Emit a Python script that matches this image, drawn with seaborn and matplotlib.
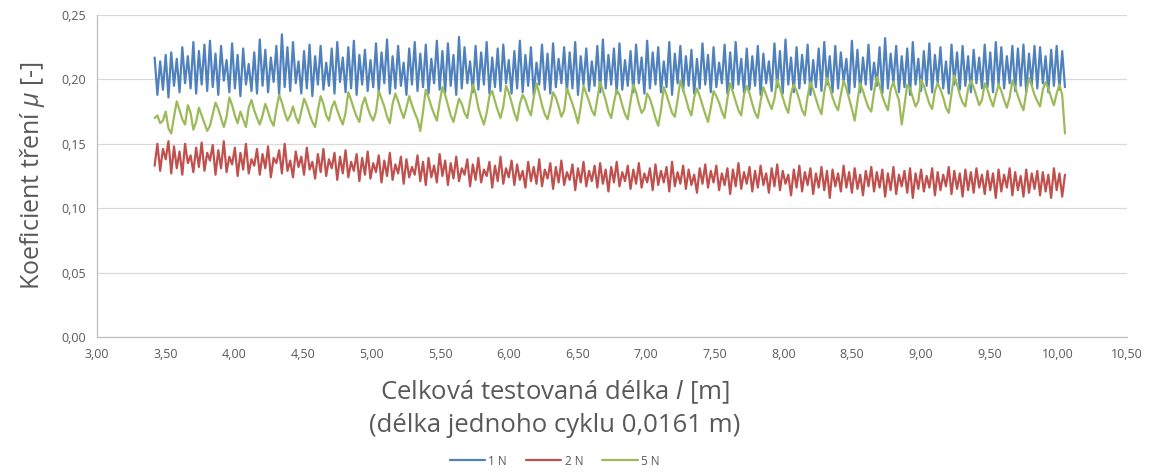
import numpy as np
import pandas as pd
import matplotlib
matplotlib.use("Agg")
import matplotlib.pyplot as plt
from matplotlib.ticker import MultipleLocator, FuncFormatter
import seaborn as sns

# Friction coefficient (in thousandths) sampled at equal steps of sliding distance
start_length = 3.42
end_length = 10.05

mu_1N = [
    217,188,214,192,219,186,221,195,216,190,225,197,218,193,229,189,222,196,227,191,
    230,194,220,188,226,199,215,190,228,193,219,187,224,196,212,191,221,189,231,195,
    223,190,217,198,226,188,235,194,225,191,229,197,214,189,222,193,227,187,218,196,
    226,192,213,195,224,189,229,198,217,190,225,193,230,188,219,196,223,191,215,194,
    228,190,221,197,231,189,218,193,226,195,213,188,224,196,229,191,220,194,227,189,
    216,197,230,192,222,190,228,195,219,188,233,193,225,197,214,190,226,192,221,196,
    229,189,217,194,224,191,227,197,215,189,222,193,230,190,219,195,225,188,213,196,
    227,192,220,189,228,194,216,197,225,190,221,193,229,188,218,196,224,191,214,195,
    226,190,231,193,219,196,224,189,228,192,215,195,222,190,227,197,217,189,230,193,
    221,196,225,190,214,194,229,188,220,197,226,191,218,195,223,189,216,193,228,196,
    219,190,225,194,213,197,227,189,221,193,229,196,216,190,224,192,218,195,226,188,
    220,197,214,191,228,194,222,189,231,196,217,190,225,193,219,197,227,188,215,194,
    224,191,229,196,218,190,226,193,221,198,216,189,230,194,223,190,217,196,227,192,
    213,195,225,189,232,193,220,197,226,190,218,194,224,188,229,196,216,191,222,195,
    228,190,219,197,225,193,214,189,227,196,221,192,226,195,218,190,223,197,217,193,
    227,194,221,190,229,196,225,193,218,197,226,191,224,195,227,190,220,196,226,193,
    225,197,218,190,223,195,226,192,222,194,
]

mu_2N = [
    133,150,129,146,138,152,127,148,131,144,126,150,135,141,128,147,132,151,129,143,
    137,149,126,145,131,152,128,140,134,147,125,143,130,150,127,138,133,146,126,142,
    131,148,124,139,135,145,127,150,129,137,124,144,132,140,126,147,130,136,123,142,
    128,146,125,138,131,143,122,140,127,145,124,136,129,142,121,139,126,144,123,135,
    128,141,120,137,125,143,122,134,127,140,119,138,124,132,126,141,121,136,118,139,
    124,133,120,142,125,137,118,135,123,140,121,131,126,138,117,134,122,139,120,130,
    125,136,116,133,121,140,119,131,124,137,118,134,122,129,116,136,121,132,119,138,
    117,130,123,135,115,132,120,137,118,128,122,134,114,131,120,136,117,129,121,133,
    116,135,119,130,113,132,120,136,117,128,121,133,115,130,119,135,116,127,120,131,
    114,134,118,129,120,132,113,136,117,128,119,133,115,130,118,126,112,131,119,134,
    116,129,120,133,114,127,118,131,111,130,117,135,115,128,119,132,113,129,116,133,
    118,127,112,131,117,134,114,129,119,126,110,130,116,133,113,128,118,131,111,127,
    116,132,114,129,108,130,117,127,113,133,116,128,112,131,115,126,110,129,117,132,
    113,128,116,130,109,127,114,132,111,126,117,129,112,131,108,127,115,130,113,125,
    116,131,110,128,114,126,117,132,111,129,115,127,109,130,114,128,112,131,116,126,
    111,129,114,127,108,130,113,126,116,131,110,128,114,125,109,130,112,127,115,129,
    110,128,113,126,108,131,114,127,109,126,
]

mu_5N = [
    170,172,166,168,175,162,158,171,183,176,169,165,180,174,161,167,178,172,166,160,
    164,173,182,177,170,163,171,186,180,172,166,175,169,163,178,184,176,170,165,172,
    181,175,168,164,177,188,182,174,168,172,179,171,166,175,185,180,173,167,163,176,
    187,181,172,168,178,183,176,170,165,174,190,184,177,171,167,180,186,178,172,168,
    175,191,185,179,171,166,181,189,183,176,170,178,187,180,174,169,160,175,192,186,
    179,173,168,182,194,188,180,172,167,176,185,181,174,170,183,196,189,178,171,165,
    174,187,191,183,176,170,179,195,190,182,174,168,181,188,184,177,172,186,197,189,
    180,173,169,178,190,186,179,171,176,193,187,181,174,166,179,195,189,183,176,172,
    185,198,191,184,175,170,182,192,188,180,173,169,183,196,190,181,174,177,189,185,
    178,170,164,176,194,188,181,174,171,184,199,192,185,177,172,186,193,187,180,173,
    167,178,191,187,182,175,170,185,197,190,183,176,172,188,195,189,181,174,170,183,
    194,188,182,177,185,200,193,186,179,174,189,196,191,184,176,172,187,198,192,185,
    178,173,190,201,194,186,180,176,188,199,193,185,177,168,183,197,191,184,178,175,
    190,202,195,187,181,176,192,198,190,184,165,180,196,193,186,179,183,200,195,188,
    181,177,191,197,192,186,178,174,189,203,196,188,182,179,193,199,194,187,180,184,
    197,192,185,179,188,196,191,184,178,186,199,194,187,181,176,190,201,195,188,183,
    179,192,198,193,186,180,189,196,188,158,
]

series_names = ["1 N", "2 N", "5 N"]
series_colors = ["#4F81BD", "#C0504D", "#9BBB59"]

frames = []
for name, vals in zip(series_names, [mu_1N, mu_2N, mu_5N]):
    frames.append(pd.DataFrame({
        "length": np.linspace(start_length, end_length, len(vals)),
        "mu": np.array(vals) / 1000.0,
        "load": name,
    }))
df = pd.concat(frames, ignore_index=True)

sns.set_style("white")
plt.rcParams["font.family"] = ["Open Sans", "DejaVu Sans"]
plt.rcParams["mathtext.fontset"] = "custom"
plt.rcParams["mathtext.it"] = "Open Sans:italic"
plt.rcParams["mathtext.rm"] = "Open Sans"

text_c = "#595959"
fig = plt.figure(figsize=(11.64, 4.73), dpi=100)
ax = fig.add_axes([0.0833, 0.2875, 0.8847, 0.6808])

sns.lineplot(data=df, x="length", y="mu", hue="load", hue_order=series_names,
             palette=series_colors, linewidth=1.6, ax=ax, estimator=None,
             sort=False, legend=False)

ax.set_xlim(3.0, 10.5)
ax.set_ylim(0.0, 0.25)
ax.xaxis.set_major_locator(MultipleLocator(0.5))
ax.xaxis.set_minor_locator(MultipleLocator(0.1))
ax.yaxis.set_major_locator(MultipleLocator(0.05))
ax.yaxis.set_minor_locator(MultipleLocator(0.01))
comma = FuncFormatter(lambda v, p: f"{v:.2f}".replace(".", ","))
ax.xaxis.set_major_formatter(comma)
ax.yaxis.set_major_formatter(comma)

grid_c = "#D9D9D9"
ax.grid(axis="y", which="major", color=grid_c, linewidth=0.9)
ax.set_axisbelow(True)
for side in ["top", "right"]:
    ax.spines[side].set_visible(False)
for side in ["left", "bottom"]:
    ax.spines[side].set_color("#BFBFBF")
    ax.spines[side].set_linewidth(0.9)

ax.tick_params(axis="both", which="major", direction="out", length=5,
               color="#BFBFBF", labelsize=9, labelcolor=text_c, pad=3)
ax.tick_params(axis="both", which="minor", direction="inout", length=4,
               color="#BFBFBF")

ax.set_xlabel("")
ax.set_ylabel(r"Koeficient tření $\mu$ [-]", fontsize=18, color=text_c,
              labelpad=10)

fig.text(0.4765, 1 - 392 / 473, r"Celková testovaná délka $l$ [m]",
         ha="center", va="center", fontsize=18.5, color=text_c)
fig.text(0.4765, 1 - 425 / 473, "(délka jednoho cyklu 0,0161 m)",
         ha="center", va="center", fontsize=18.5, color=text_c)

handles = [plt.Line2D([0], [0], color=c, linewidth=1.6) for c in series_colors]
fig.legend(handles, series_names, loc="center", ncol=3,
           bbox_to_anchor=(0.4765, 1 - 461 / 473), frameon=False,
           fontsize=8.5, labelcolor=text_c, handlelength=3.0,
           handletextpad=0.3, columnspacing=1.6)

fig.savefig("out.png", dpi=100)
